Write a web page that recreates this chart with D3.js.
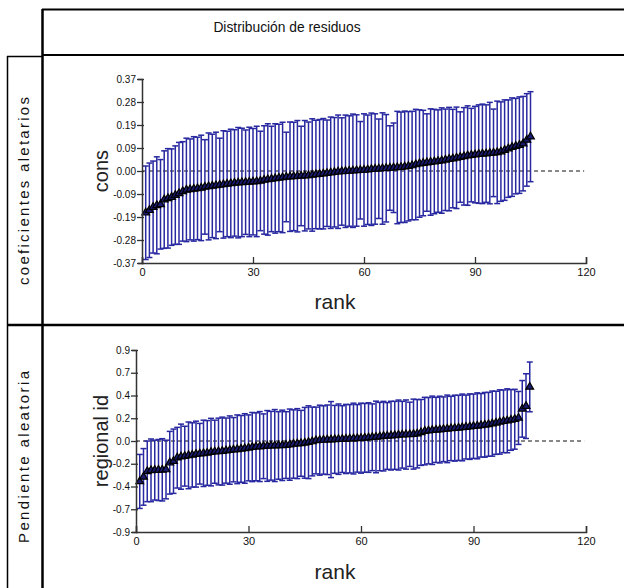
<!DOCTYPE html>
<html><head><meta charset="utf-8">
<script src="https://cdn.jsdelivr.net/npm/d3@7/dist/d3.min.js"></script>
<style>body{margin:0;background:#fff;} svg{display:block;}</style>
</head><body>
<svg id="c" width="624" height="588"></svg>
<script>
// ---------- data ----------
const title = "Distribución de residuos";
const rowLabels = ["coeficientes aletarios", "Pendiente aleatoria"];
const yAxisLabels = ["cons", "regional id"];
const xAxisLabel = "rank";
const xTicks = [0, 30, 60, 90, 120];
const xTickLabels = ["0", "30", "60", "90", "120"];

const yTicks1 = [-0.37, -0.2775, -0.185, -0.0925, 0, 0.0925, 0.185, 0.2775, 0.37];
const yTickLabels1 = ["-0.37", "-0.28", "-0.19", "-0.09", "0.00", "0.09", "0.19", "0.28", "0.37"];
const yTicks2 = [-0.9, -0.675, -0.45, -0.225, 0, 0.225, 0.45, 0.675, 0.9];
const yTickLabels2 = ["-0.9", "-0.7", "-0.4", "-0.2", "0.0", "0.2", "0.4", "0.7", "0.9"];

// panel 1: residual estimates (sorted by rank) and half-widths of the intervals
const est1 = [
-0.168,-0.158,-0.145,-0.138,-0.134,-0.115,-0.110,-0.105,-0.097,-0.090,
-0.082,-0.076,-0.074,-0.072,-0.070,-0.068,-0.064,-0.062,-0.060,-0.058,
-0.056,-0.054,-0.052,-0.050,-0.048,-0.047,-0.046,-0.045,-0.044,-0.043,
-0.042,-0.040,-0.036,-0.034,-0.032,-0.030,-0.028,-0.026,-0.024,-0.023,
-0.022,-0.021,-0.020,-0.019,-0.018,-0.016,-0.014,-0.013,-0.011,-0.009,
-0.007,-0.005,-0.003,-0.002,-0.001,0.000,0.001,0.002,0.003,0.004,
0.005,0.007,0.008,0.009,0.010,0.011,0.012,0.013,0.014,0.015,
0.017,0.019,0.022,0.026,0.030,0.032,0.034,0.036,0.038,0.040,
0.042,0.045,0.048,0.050,0.053,0.056,0.059,0.062,0.064,0.066,
0.068,0.069,0.070,0.072,0.073,0.075,0.078,0.084,0.090,0.096,
0.100,0.104,0.110,0.125,0.138];
const hw1 = [
0.188,0.190,0.185,0.195,0.180,0.196,0.200,0.194,0.198,0.205,
0.200,0.208,0.203,0.210,0.206,0.212,0.190,0.215,0.208,0.214,
0.188,0.216,0.212,0.218,0.214,0.222,0.218,0.210,0.220,0.214,
0.222,0.200,0.218,0.224,0.212,0.220,0.216,0.222,0.180,0.220,
0.218,0.224,0.200,0.222,0.215,0.226,0.218,0.220,0.222,0.214,
0.224,0.220,0.228,0.216,0.226,0.222,0.228,0.224,0.196,0.226,
0.220,0.226,0.222,0.200,0.224,0.216,0.170,0.180,0.226,0.222,
0.224,0.220,0.218,0.222,0.216,0.212,0.196,0.214,0.210,0.206,
0.212,0.204,0.208,0.198,0.204,0.182,0.196,0.200,0.188,0.194,
0.198,0.200,0.196,0.204,0.176,0.206,0.200,0.202,0.196,0.198,
0.192,0.194,0.190,0.186,0.181];

// panel 2
const est2 = [
-0.400,-0.355,-0.300,-0.290,-0.288,-0.287,-0.285,-0.282,-0.215,-0.200,
-0.165,-0.155,-0.150,-0.142,-0.138,-0.130,-0.126,-0.122,-0.118,-0.110,
-0.106,-0.104,-0.100,-0.095,-0.090,-0.086,-0.082,-0.078,-0.074,-0.068,
-0.060,-0.057,-0.055,-0.052,-0.049,-0.047,-0.045,-0.044,-0.043,-0.040,
-0.036,-0.030,-0.026,-0.023,-0.018,-0.012,-0.005,0.005,0.008,0.010,
0.012,0.014,0.016,0.018,0.019,0.020,0.022,0.024,0.026,0.028,
0.031,0.034,0.037,0.040,0.044,0.048,0.050,0.053,0.056,0.059,
0.062,0.064,0.066,0.068,0.072,0.085,0.098,0.102,0.106,0.110,
0.113,0.116,0.120,0.124,0.127,0.130,0.134,0.138,0.142,0.146,
0.150,0.155,0.160,0.165,0.172,0.180,0.188,0.195,0.200,0.208,
0.215,0.228,0.318,0.345,0.535];
const hw2 = [
0.267,0.280,0.300,0.310,0.296,0.302,0.308,0.290,0.310,0.318,
0.300,0.322,0.296,0.330,0.318,0.326,0.300,0.328,0.320,0.334,
0.312,0.330,0.336,0.322,0.338,0.318,0.340,0.330,0.344,0.326,
0.342,0.336,0.346,0.320,0.350,0.340,0.356,0.334,0.348,0.330,
0.352,0.338,0.346,0.326,0.350,0.360,0.340,0.330,0.346,0.338,
0.344,0.376,0.336,0.348,0.330,0.342,0.338,0.350,0.334,0.346,
0.340,0.344,0.330,0.354,0.338,0.344,0.330,0.340,0.336,0.346,
0.330,0.342,0.318,0.346,0.338,0.326,0.334,0.328,0.338,0.322,
0.330,0.320,0.334,0.318,0.326,0.322,0.330,0.316,0.324,0.318,
0.326,0.314,0.320,0.316,0.322,0.312,0.318,0.310,0.316,0.300,
0.296,0.262,0.280,0.320,0.246];

// ---------- drawing ----------
const svg = d3.select("#c");
const NARROW = "'Liberation Sans Narrow','Arial Narrow','Liberation Sans',Arial,sans-serif";
const SANS = "'Liberation Sans',Arial,Helvetica,sans-serif";
const BAR = "#2828a0";

// frame
const frame = svg.append("g").attr("stroke", "#000").attr("fill", "none");
frame.append("line").attr("x1", 42).attr("x2", 624).attr("y1", 9.5).attr("y2", 9.5).attr("stroke-width", 2);
frame.append("line").attr("x1", 42).attr("x2", 624).attr("y1", 55).attr("y2", 55).attr("stroke-width", 2);
frame.append("line").attr("x1", 7).attr("x2", 42).attr("y1", 56.5).attr("y2", 56.5).attr("stroke-width", 1.5);
frame.append("line").attr("x1", 42.5).attr("x2", 42.5).attr("y1", 9).attr("y2", 588).attr("stroke-width", 2.5);
frame.append("line").attr("x1", 7.5).attr("x2", 7.5).attr("y1", 56).attr("y2", 588).attr("stroke-width", 1.5);
frame.append("line").attr("x1", 7).attr("x2", 624).attr("y1", 325).attr("y2", 325).attr("stroke-width", 2.5);

svg.append("text").attr("x", 287).attr("y", 32).attr("text-anchor", "middle")
  .attr("font-family", SANS).attr("font-size", 13.8).attr("fill", "#111").text(title);

// row labels
[[191, 188], [457, 172]].forEach(([cy, len], i) => {
  svg.append("text").attr("transform", `translate(29,${cy}) rotate(-90)`)
    .attr("text-anchor", "middle").attr("font-family", SANS).attr("font-size", 15)
    .attr("textLength", len).attr("lengthAdjust", "spacing")
    .attr("fill", "#111").text(rowLabels[i]);
});

function panel(o) {
  const x = d3.scaleLinear().domain([0, 120]).range([o.x0, 586]);
  const y = d3.scaleLinear().domain([o.yTicks[0], o.yTicks[o.yTicks.length - 1]]).range([o.yBottom, o.yTop]);
  const g = svg.append("g");
  const data = o.est.map((e, i) => ({ r: i + 1, e: e, lo: e - o.hw[i], hi: e + o.hw[i] }));

  // zero reference line
  g.append("line").attr("x1", x(0)).attr("x2", x(119.5)).attr("y1", y(0)).attr("y2", y(0))
    .attr("stroke", "#111").attr("stroke-width", 1).attr("stroke-dasharray", "4,3");

  // error bars
  const eb = g.append("g").attr("stroke", BAR).attr("stroke-width", 1.5).attr("fill", "none");
  eb.selectAll("line.v").data(data).join("line").attr("class", "v")
    .attr("x1", d => x(d.r)).attr("x2", d => x(d.r)).attr("y1", d => y(d.lo)).attr("y2", d => y(d.hi));
  eb.selectAll("line.t").data(data).join("line").attr("class", "t")
    .attr("x1", d => x(d.r) - 3).attr("x2", d => x(d.r) + 3).attr("y1", d => y(d.hi)).attr("y2", d => y(d.hi));
  eb.selectAll("line.b").data(data).join("line").attr("class", "b")
    .attr("x1", d => x(d.r) - 3).attr("x2", d => x(d.r) + 3).attr("y1", d => y(d.lo)).attr("y2", d => y(d.lo));

  // points
  const tri = d3.symbol().type(d3.symbolTriangle).size(26);
  g.append("g").selectAll("path").data(data).join("path")
    .attr("d", tri).attr("transform", d => `translate(${x(d.r)},${y(d.e)})`)
    .attr("fill", "#1a1a70").attr("stroke", "#000").attr("stroke-width", 1.2);

  // axes
  const ya = g.append("g").attr("transform", `translate(${o.x0},0)`)
    .call(d3.axisLeft(y).tickValues(o.yTicks).tickFormat((d, i) => o.yLabels[i]).tickSizeOuter(0).tickSize(4).tickPadding(2));
  ya.selectAll("text").attr("font-family", NARROW).attr("font-size", 10).attr("fill", "#111");
  ya.selectAll(".tick line").attr("stroke", "#333").attr("stroke-width", 1.3).attr("x2", -5).attr("x1", 2);
  ya.select(".domain").attr("stroke", "#333").attr("stroke-width", 1.5);

  const xa = g.append("g").attr("transform", `translate(0,${o.yBottom})`)
    .call(d3.axisBottom(x).tickValues(xTicks).tickFormat((d, i) => xTickLabels[i]).tickSizeOuter(0).tickSize(-6).tickPadding(5));
  xa.selectAll("text").attr("font-family", NARROW).attr("font-size", 11).attr("fill", "#111");
  xa.selectAll(".tick line").attr("stroke", "#333").attr("stroke-width", 1.3).attr("y2", -6).attr("y1", 1);
  xa.select(".domain").attr("stroke", "#333").attr("stroke-width", 1.5);

  // axis titles
  svg.append("text").attr("transform", `translate(108,${(o.yTop + o.yBottom) / 2}) rotate(-90)`)
    .attr("text-anchor", "middle").attr("font-family", SANS).attr("font-size", 20).attr("fill", "#222")
    .text(o.ylab);
  svg.append("text").attr("x", 335).attr("y", o.rankY).attr("text-anchor", "middle")
    .attr("font-family", SANS).attr("font-size", 21).attr("fill", "#222").text(xAxisLabel);
}

panel({ x0: 142, yTop: 79, yBottom: 263, yTicks: yTicks1, yLabels: yTickLabels1, est: est1, hw: hw1, ylab: yAxisLabels[0], rankY: 309 });
panel({ x0: 136, yTop: 350, yBottom: 532, yTicks: yTicks2, yLabels: yTickLabels2, est: est2, hw: hw2, ylab: yAxisLabels[1], rankY: 579 });
</script>
</body></html>
